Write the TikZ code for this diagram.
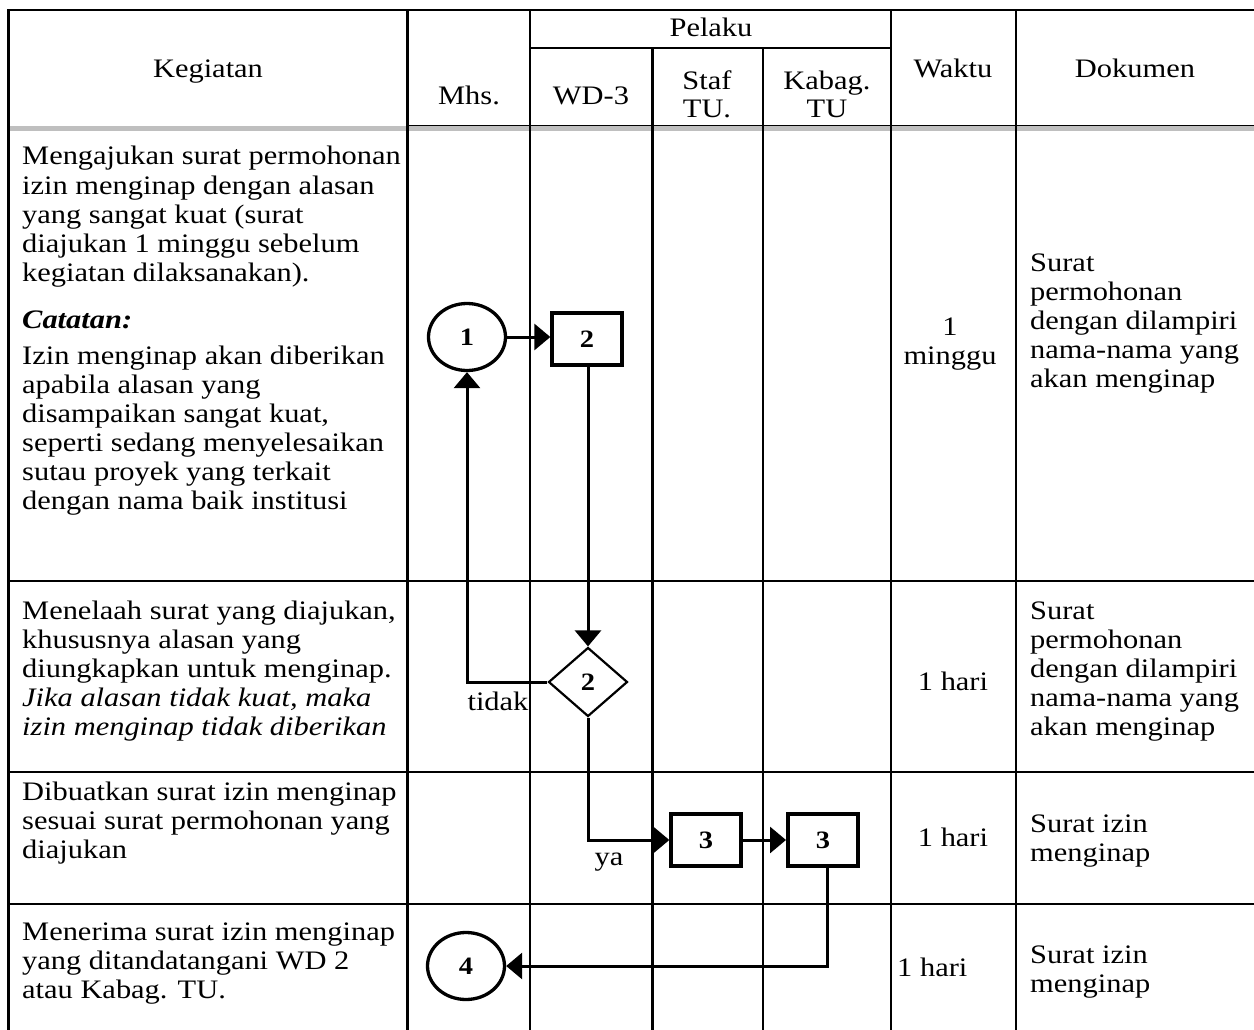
\documentclass[tikz,border=0pt]{standalone}
\usepackage{fontspec}
\setmainfont{Liberation Serif}[FakeStretch=1.14]
\usetikzlibrary{shapes.geometric,arrows.meta}
\definecolor{band}{HTML}{BFBFBF}
\begin{document}
\begin{tikzpicture}[x=1pt,y=-1pt,
  tab/.style={line width=2.2pt},
  flow/.style={line width=3pt},
  arr/.style={flow,-{Triangle[length=16pt,width=26pt]}},
  txt/.style={anchor=base west,inner sep=0pt,font=\fontsize{26.7}{29}\selectfont},
  ctxt/.style={txt,anchor=base},
  nfont/.style={font=\fontsize{25}{27}\selectfont\bfseries},
  circ/.style={draw,ellipse,line width=3.3pt,minimum width=77pt,minimum height=67pt,inner sep=0pt,nfont},
  box/.style={draw,rectangle,line width=3.3pt,minimum width=70pt,minimum height=52pt,inner sep=0pt,nfont},
  dia/.style={draw,diamond,line width=2.2pt,minimum width=79pt,minimum height=69pt,inner sep=0pt,nfont}]
\useasboundingbox (0,0) rectangle (1254,1030);
\clip (0,0) rectangle (1254,1030);
% ---------- table ----------
\fill[band] (8.5,126) rectangle (1260,131);
\draw[line width=1pt] (407.5,125.5) -- (1260,125.5);
\draw[tab] (8.5,1040) -- (8.5,10) -- (1260,10);
\foreach \xx in {407.5,530,891,1016} \draw[tab] (\xx,10) -- (\xx,1040);
\foreach \xx in {652.5,763} \draw[tab] (\xx,48) -- (\xx,1040);
\draw[tab] (530,48) -- (891,48);
\foreach \yy in {581,772,904} \draw[tab] (8.5,\yy) -- (1260,\yy);
% ---------- header ----------
\node[ctxt] (hpel) at (711,37) {Pelaku};
\node[ctxt] (hkeg) at (208,78) {Kegiatan};
\node[ctxt] (hmhs) at (469,105) {Mhs.};
\node[ctxt] (hwd) at (591,105) {WD-3};
\node[ctxt] (hstaf) at (707,90) {Staf};
\node[ctxt] (hstaf2) at (707,118) {TU.};
\node[ctxt] (hkab) at (827,90) {Kabag.};
\node[ctxt] (hkab2) at (827,118) {TU};
\node[ctxt] (hwak) at (953,78) {Waktu};
\node[ctxt] (hdok) at (1135,78) {Dokumen};
% ---------- Kegiatan ----------
\foreach \yy/\tx in {165/{Mengajukan surat permohonan},194/{izin menginap dengan alasan},
  223/{yang sangat kuat (surat},252/{diajukan 1 minggu sebelum},281/{kegiatan dilaksanakan).},
  328/{\textbf{\textit{Catatan:}}},364/{Izin menginap akan diberikan},393/{apabila alasan yang},
  422/{disampaikan sangat kuat,},451/{seperti sedang menyelesaikan},480/{sutau proyek yang terkait},
  509/{dengan nama baik institusi},
  619/{Menelaah surat yang diajukan,},648/{khususnya alasan yang},677/{diungkapkan untuk menginap.},
  706/{\textit{Jika alasan tidak kuat, maka}},735/{\textit{izin menginap tidak diberikan}},
  800/{Dibuatkan surat izin menginap},829/{sesuai surat permohonan yang},858/{diajukan},
  940/{Menerima surat izin menginap},969/{yang ditandatangani WD 2},998/{atau Kabag. TU.}}
  \node[txt] (keg\yy) at (22,\yy) {\tx};
% ---------- Waktu ----------
\node[ctxt] (w1a) at (950,335) {1};
\node[ctxt] (w1b) at (950,364) {minggu};
\node[ctxt] (w2) at (953,690) {1 hari};
\node[ctxt] (w3) at (953,846) {1 hari};
\node[txt] (w4) at (897,976) {1 hari};
% ---------- Dokumen ----------
\foreach \yy/\tx in {271/{Surat},300/{permohonan},329/{dengan dilampiri},358/{nama-nama yang},387/{akan menginap},
  619/{Surat},648/{permohonan},677/{dengan dilampiri},706/{nama-nama yang},735/{akan menginap},
  832/{Surat izin},861/{menginap},963/{Surat izin},992/{menginap}}
  \node[txt] (dok\yy) at (1030,\yy) {\tx};
% ---------- flow ----------
\node[circ] (c1) at (467,337) {1};
\node[box] (b2) at (587,339) {2};
\node[dia] (d2) at (588,682) {2};
\node[box] (b3a) at (706,840) {3};
\node[box,line width=4pt] (b3b) at (823,840) {3};
\node[circ] (c4) at (466,966) {4};
\draw[arr] (c1.east) -- (b2.west |- c1.east);
\draw[arr] (b2.south -| d2.north) -- (d2.north);
\draw[arr] (d2.west) -| (c1.south);
\draw[arr] (d2.south) |- (b3a.west);
\draw[arr] (b3a.east) -- (b3b.west);
\draw[arr] ([xshift=4pt]b3b.south) |- (c4.east);
\node[ctxt] (ltidak) at (498,710) {tidak};
\node[ctxt] (lya) at (609,865) {ya};
\end{tikzpicture}
\end{document}
